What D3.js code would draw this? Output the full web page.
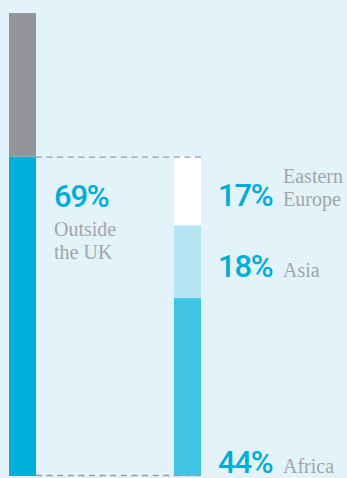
<!DOCTYPE html>
<html>
<head>
<meta charset="utf-8">
<script src="https://cdn.jsdelivr.net/npm/d3@7"></script>
<style>
  html, body { margin: 0; padding: 0; background: #e2f3f9; }
  svg { display: block; }
</style>
</head>
<body>
<svg id="chart"></svg>
<script>
// left bar: UK vs outside UK (percent of total)
var mainParts = ["UK", "Outside the UK"];
var mainValues = [31, 69];

// right bar: breakdown of the outside-UK share, bottom to top
var regions = ["Africa", "Asia", "Eastern Europe"];
var regionValues = [44, 18, 17];
var regionLines = [["Africa"], ["Asia"], ["Eastern", "Europe"]];

var width = 347, height = 478;
var barW = 27;
var leftX = 9, rightX = 174, labelX = 218, nameX = 283;

var svg = d3.select("#chart").attr("width", width).attr("height", height);

var y = d3.scaleLinear().domain([0, 100]).range([476, 13]);

var mainColors = ["#939598", "#00b0db"];
var regionColors = ["#40c4e3", "#b3e5f3", "#ffffff"];

// stacked left bar, outside UK at the bottom
var stackMain = [
  {name: mainParts[1], v0: 0, v1: mainValues[1], color: mainColors[1]},
  {name: mainParts[0], v0: mainValues[1], v1: mainValues[1] + mainValues[0], color: mainColors[0]}
];

svg.append("g").selectAll("rect")
  .data(stackMain)
  .enter().append("rect")
  .attr("x", leftX)
  .attr("width", barW)
  .attr("y", function(d) { return y(d.v1); })
  .attr("height", function(d) { return y(d.v0) - y(d.v1); })
  .attr("fill", function(d) { return d.color; });

// right bar fills the height of the outside-UK part
var regionTotal = d3.sum(regionValues);
var y2 = d3.scaleLinear().domain([0, regionTotal]).range([y(0), y(mainValues[1])]);

var acc = 0;
var stackRegions = regionValues.map(function(v, i) {
  var d = {name: regions[i], value: v, v0: acc, v1: acc + v, color: regionColors[i], lines: regionLines[i]};
  acc += v;
  return d;
});

svg.append("g").selectAll("rect")
  .data(stackRegions)
  .enter().append("rect")
  .attr("x", rightX)
  .attr("width", barW)
  .attr("y", function(d) { return y2(d.v1); })
  .attr("height", function(d) { return y2(d.v0) - y2(d.v1); })
  .attr("fill", function(d) { return d.color; });

// dashed guides
var guides = svg.append("g")
  .attr("stroke", "#9a9ca0")
  .attr("stroke-width", 1.3)
  .attr("stroke-dasharray", "6,4.6");
guides.append("line")
  .attr("x1", leftX + barW).attr("x2", rightX + barW)
  .attr("y1", y(mainValues[1]) + 0.5).attr("y2", y(mainValues[1]) + 0.5);
guides.append("line")
  .attr("x1", leftX + barW).attr("x2", rightX + barW)
  .attr("y1", y(0) - 0.5).attr("y2", y(0) - 0.5);

var pctFont = "Roboto, 'DejaVu Sans', sans-serif";
var nameFont = "'Liberation Serif', 'DejaVu Serif', serif";

// left label
var mainTop = y(mainValues[1]);
svg.append("text")
  .attr("x", 54).attr("y", mainTop + 50)
  .attr("font-family", pctFont).attr("font-weight", 500)
  .attr("font-size", 31).attr("letter-spacing", -1.2).attr("fill", "#00acd9")
  .text(mainValues[1] + "%");
var mainName = svg.append("text")
  .attr("font-family", nameFont).attr("font-size", 20)
  .attr("fill", "#a4a5aa");
["Outside", "the UK"].forEach(function(t, i) {
  mainName.append("tspan").attr("x", 54).attr("y", mainTop + 79 + i * 23).text(t);
});

// region labels
var lab = svg.append("g").selectAll("g")
  .data(stackRegions)
  .enter().append("g")
  .attr("transform", function(d, i) {
    var mid = (y2(d.v0) + y2(d.v1)) / 2;
    var base = i === 0 ? y2(d.v0) - 3 : mid + 15;
    return "translate(0," + base + ")";
  });

lab.append("text")
  .attr("x", labelX)
  .attr("font-family", pctFont).attr("font-weight", 500)
  .attr("font-size", 31).attr("letter-spacing", -1.2).attr("fill", "#00acd9")
  .text(function(d) { return d.value + "%"; });

lab.append("text")
  .attr("font-family", nameFont).attr("font-size", 20)
  .attr("fill", "#a4a5aa")
  .each(function(d) {
    var t = d3.select(this);
    var n = d.lines.length;
    d.lines.forEach(function(s, k) {
      t.append("tspan").attr("x", nameX).attr("y", (k - (n - 1)) * 23).text(s);
    });
  });
</script>
</body>
</html>
